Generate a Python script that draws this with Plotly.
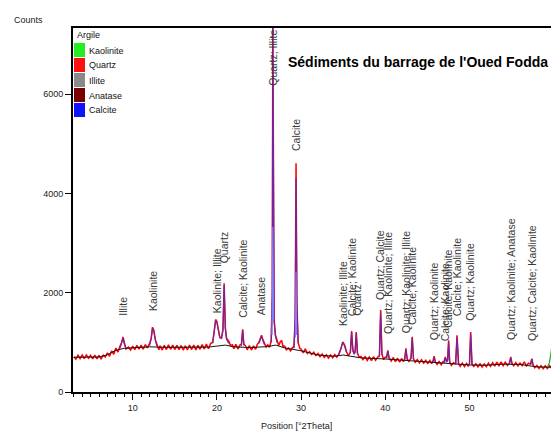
import plotly.graph_objects as go

# ---------------- data ----------------
obs_two_theta = [
    3.0, 3.25, 3.5, 3.75, 4.0, 4.25, 4.5, 4.75, 5.0, 5.25,
    5.5, 5.75, 6.0, 6.25, 6.5, 6.75, 7.0, 7.25, 7.5, 7.75,
    8.0, 8.25, 8.5, 8.7, 8.85, 9.0, 9.2, 9.5, 9.75, 10.0,
    10.25, 10.5, 10.75, 11.0, 11.25, 11.5, 11.75, 12.0, 12.2, 12.35,
    12.5, 12.7, 12.9, 13.1, 13.25, 13.5, 13.75, 14.0, 14.25, 14.5,
    14.75, 15.0, 15.25, 15.5, 15.75, 16.0, 16.25, 16.5, 16.75, 17.0,
    17.25, 17.5, 17.75, 18.0, 18.25, 18.5, 18.75, 19.0, 19.25, 19.5,
    19.7, 19.85, 20.0, 20.15, 20.35, 20.55, 20.72, 20.86, 21.0, 21.15,
    21.4, 21.6, 21.85, 22.0, 22.25, 22.5, 22.75, 22.92, 23.06, 23.2,
    23.4, 23.6, 23.85, 24.1, 24.35, 24.6, 24.8, 25.0, 25.15, 25.3,
    25.45, 25.65, 25.85, 26.05, 26.25, 26.45, 26.58, 26.64, 26.72, 26.8,
    26.95, 27.15, 27.35, 27.55, 27.7, 27.85, 28.05, 28.25, 28.5, 28.75,
    28.95, 29.15, 29.3, 29.4, 29.5, 29.65, 29.85, 30.0, 30.25, 30.5,
    30.75, 31.0, 31.25, 31.5, 31.75, 32.0, 32.25, 32.5, 32.75, 33.0,
    33.25, 33.5, 33.75, 34.0, 34.25, 34.5, 34.75, 34.95, 35.15, 35.4,
    35.6, 35.85, 36.0, 36.15, 36.3, 36.42, 36.55, 36.7, 36.9, 37.1,
    37.35, 37.6, 37.85, 38.1, 38.35, 38.6, 38.85, 39.1, 39.3, 39.45,
    39.6, 39.8, 40.0, 40.15, 40.3, 40.45, 40.7, 40.95, 41.2, 41.45,
    41.7, 41.95, 42.15, 42.3, 42.45, 42.6, 42.8, 43.05, 43.2, 43.35,
    43.55, 43.8, 44.05, 44.3, 44.55, 44.8, 45.05, 45.3, 45.5, 45.65,
    45.8, 45.95, 46.15, 46.4, 46.65, 46.85, 46.97, 47.12, 47.28, 47.4,
    47.52, 47.65, 47.85, 48.1, 48.35, 48.52, 48.7, 48.9, 49.15, 49.4,
    49.65, 49.85, 50.0, 50.14, 50.3, 50.5, 50.75, 51.0, 51.25, 51.5,
    51.75, 52.0, 52.25, 52.5, 52.75, 53.0, 53.25, 53.5, 53.75, 54.0,
    54.25, 54.5, 54.75, 54.9, 55.05, 55.25, 55.5, 55.75, 56.0, 56.25,
    56.5, 56.75, 57.0, 57.25, 57.4, 57.55, 57.75, 58.0, 58.25, 58.5,
    58.75, 59.0, 59.25, 59.5, 59.75,
]
obs_counts = [
    710, 660, 740, 675, 745, 672, 748, 680, 738, 668,
    745, 665, 738, 662, 742, 705, 790, 720, 830, 760,
    885, 805, 925, 1000, 1110, 985, 865, 905, 845, 925,
    855, 940, 865, 945, 860, 955, 890, 975, 1085, 1305,
    1250, 1050, 940, 850, 930, 845, 940, 855, 950, 860,
    945, 855, 940, 852, 935, 845, 930, 850, 943, 855,
    945, 848, 940, 860, 955, 865, 965, 870, 975, 1000,
    1250, 1460, 1420, 1250, 1100, 1090, 1260, 2190, 1300, 1080,
    1030, 940, 950, 870, 960, 865, 950, 965, 1265, 965,
    930, 850, 935, 845, 930, 860, 960, 1005, 1080, 1145,
    1060, 990, 905, 950, 900, 1030, 2000, 7400, 3000, 1450,
    1150, 1030, 935, 1020, 1030, 915, 925, 850, 885, 830,
    895, 905, 1500, 4610, 1800, 1000, 875, 865, 790, 870,
    775, 815, 755, 800, 735, 775, 710, 765, 697, 750,
    683, 743, 690, 755, 700, 775, 880, 1010, 950, 810,
    730, 800, 1230, 850, 770, 820, 1210, 780, 700, 715,
    650, 710, 635, 705, 630, 710, 640, 705, 730, 1650,
    770, 650, 705, 700, 840, 690, 625, 695, 610, 680,
    600, 675, 610, 665, 880, 665, 615, 680, 1110, 670,
    600, 655, 585, 650, 580, 640, 575, 635, 570, 615,
    720, 600, 555, 615, 550, 610, 600, 706, 620, 650,
    1043, 600, 535, 590, 560, 1144, 570, 515, 580, 510,
    575, 515, 575, 1210, 565, 515, 570, 505, 565, 500,
    565, 510, 580, 515, 590, 520, 600, 530, 605, 530,
    600, 535, 585, 706, 570, 530, 590, 525, 585, 530,
    605, 525, 580, 560, 673, 545, 490, 535, 475, 530,
    470, 527, 473, 530, 480,
]

bg_two_theta = [3.0, 6.0, 7.0, 8.0, 9.0, 10.0, 12.0, 14.0, 17.0, 19.0, 20.0, 21.0,
                22.0, 24.0, 26.0, 27.0, 28.0, 29.0, 30.0, 32.0, 34.0, 35.0, 36.0,
                37.0, 40.0, 42.0, 44.0, 46.0, 48.0, 50.0, 52.0, 54.0, 56.0, 58.0, 59.75]
bg_counts = [700, 705, 750, 840, 880, 895, 910, 900, 895, 905, 925, 945,
             910, 895, 915, 945, 890, 865, 830, 745, 720, 745, 725,
             690, 665, 640, 615, 590, 555, 545, 540, 560, 555, 505, 500]

calc_two_theta = [
    8.5, 8.7, 8.85, 9.0, 9.2, None,
    12.0, 12.2, 12.35, 12.5, 12.7, 12.9, None,
    19.5, 19.7, 19.85, 20.0, 20.15, 20.35, 20.55, 20.72, 20.86, 21.0, 21.15, 21.4, None,
    22.9, 23.06, 23.2, None,
    25.0, 25.15, 25.3, 25.45, 25.65, None,
    26.45, 26.58, 26.64, 26.72, 26.8, 26.95, 27.15, None,
    29.15, 29.3, 29.4, 29.5, 29.65, None,
    34.5, 34.75, 34.95, 35.15, 35.4, None,
    35.85, 36.0, 36.15, 36.3, 36.42, 36.55, 36.7, None,
    39.3, 39.45, 39.6, None,
    40.15, 40.3, 40.45, None,
    42.3, 42.45, 42.6, None,
    43.05, 43.2, 43.35, None,
    45.65, 45.8, 45.95, None,
    46.97, 47.12, 47.28, 47.4, 47.52, 47.65, None,
    48.35, 48.52, 48.7, None,
    50.0, 50.14, 50.3, None,
    54.75, 54.9, 55.05, None,
    57.25, 57.4, 57.55,
]
calc_counts = [
    880, 980, 1090, 960, 885, None,
    930, 1070, 1280, 1230, 1030, 910, None,
    980, 1230, 1440, 1400, 1240, 1090, 1080, 1240, 2150, 1280, 1060, 980, None,
    920, 1250, 940, None,
    980, 1060, 1120, 1040, 950, None,
    1000, 1950, 7330, 2950, 1420, 1120, 990, None,
    880, 1450, 4310, 1750, 980, None,
    750, 870, 1000, 940, 790, None,
    780, 1200, 830, 760, 800, 1180, 760, None,
    700, 1600, 740, None,
    680, 820, 670, None,
    650, 860, 650, None,
    660, 1090, 650, None,
    600, 700, 590, None,
    580, 690, 600, 630, 1000, 580, None,
    560, 1100, 555, None,
    560, 1160, 550, None,
    565, 690, 560, None,
    545, 660, 535,
]

comp_two_theta = [26.55, 26.64, 26.72, None, 29.33, 29.4, 29.47]
comp_counts = [1150, 3330, 1450, None, 1100, 2420, 1150]

kaolinite_tail_two_theta = [59.3, 59.5, 59.65, 59.75]
kaolinite_tail_counts = [505, 600, 760, 880]

label_two_theta = [8.85, 12.4, 19.95, 20.86, 23.06, 25.2, 26.64, 29.4,
                   35.0, 36.0, 36.55, 39.45, 40.3, 42.45, 43.2, 45.8,
                   47.12, 47.52, 48.52, 50.14, 54.9, 57.4]
label_text = ["Illite", "Kaolinite", "Kaolinite; Illite", "Quartz", "Calcite; Kaolinite",
              "Anatase", "Quartz; Illite", "Calcite",
              "Kaolinite; Illite", "Calcite; Kaolinite", "Quartz", "Quartz; Calcite",
              "Quartz; Kaolinite; Illite", "Quartz; Kaolinite; Illite", "Calcite; Kaolinite",
              "Quartz; Kaolinite", "Calcite; Kaolinite", "Calcite; Kaolinite",
              "Calcite; Kaolinite", "Quartz; Kaolinite", "Quartz; Kaolinite; Anatase",
              "Quartz; Calcite; Kaolinite"]
label_base_counts = [1487, 1588, 1547, 2555, 1447, 1507, 6125, 4815,
                     1285, 1480, 1500, 1808, 1124, 1144, 1312, 1004,
                     985, 1245, 1487, 1386, 1004, 985]

phase_names = ["Kaolinite", "Quartz", "Illite", "Anatase", "Calcite"]
phase_colors = ["#22ee22", "#ff1010", "#8a8a8a", "#7a0000", "#1010ff"]

x_tick_vals = [10, 20, 30, 40, 50]
y_tick_vals = [0, 2000, 4000, 6000]

# ---------------- layout geometry (pixels) ----------------
W, H = 551, 434
L, T, R, B = 73, 28, 551, 392
PW, PH = R - L, B - T


def px(x):
    return (x - L) / PW


def py(y):
    return (B - y) / PH


SANS = "Liberation Sans, Arial, sans-serif"

fig = go.Figure()

fig.add_trace(go.Scatter(x=obs_two_theta, y=obs_counts, mode="lines",
                         line=dict(color="#ff0000", width=1.5), hoverinfo="skip"))
fig.add_trace(go.Scatter(x=bg_two_theta, y=bg_counts, mode="lines",
                         line=dict(color="#151515", width=1), hoverinfo="skip"))
fig.add_trace(go.Scatter(x=calc_two_theta, y=calc_counts, mode="lines",
                         line=dict(color="#6428b0", width=1.2), opacity=0.9,
                         connectgaps=False, hoverinfo="skip"))
fig.add_trace(go.Scatter(x=comp_two_theta, y=comp_counts, mode="lines",
                         line=dict(color="#7f7fff", width=1.2), connectgaps=False,
                         hoverinfo="skip"))
fig.add_trace(go.Scatter(x=kaolinite_tail_two_theta, y=kaolinite_tail_counts, mode="lines",
                         line=dict(color="#22aa22", width=1.2), hoverinfo="skip"))

annotations = []
for xv, txt, yv in zip(label_two_theta, label_text, label_base_counts):
    annotations.append(dict(x=xv, y=yv, xref="x", yref="y", text=txt, showarrow=False,
                            textangle=-90, xanchor="center", yanchor="bottom",
                            font=dict(family=SANS, size=10.5, color="#3a3a3a")))

# title
annotations.append(dict(x=px(286), y=py(62), xref="paper", yref="paper",
                        text="<b>Sédiments du barrage de l'Oued Fodda</b>", showarrow=False,
                        xanchor="left", yanchor="middle",
                        font=dict(family=SANS, size=14, color="#000000")))
# y axis title
annotations.append(dict(x=px(12), y=py(20), xref="paper", yref="paper", text="Counts",
                        showarrow=False, xanchor="left", yanchor="middle",
                        font=dict(family=SANS, size=9, color="#222222")))
# x axis title
annotations.append(dict(x=px(296), y=py(426), xref="paper", yref="paper",
                        text="Position [°2Theta]", showarrow=False, xanchor="center",
                        yanchor="middle", font=dict(family=SANS, size=9, color="#222222")))

# legend (Argile)
shapes = []
annotations.append(dict(x=px(75), y=py(35), xref="paper", yref="paper", text="Argile",
                        showarrow=False, xanchor="left", yanchor="middle",
                        font=dict(family=SANS, size=9, color="#111111")))
for i, (name, col) in enumerate(zip(phase_names, phase_colors)):
    top = 43 + 15 * i
    shapes.append(dict(type="rect", xref="paper", yref="paper",
                       x0=px(74), x1=px(85), y0=py(top + 14), y1=py(top),
                       fillcolor=col, line=dict(width=0)))
    annotations.append(dict(x=px(86.5), y=py(top + 7.5), xref="paper", yref="paper",
                            text=name, showarrow=False, xanchor="left", yanchor="middle",
                            font=dict(family=SANS, size=9, color="#111111")))

fig.update_layout(
    width=W, height=H,
    margin=dict(l=L, r=W - R, t=T, b=H - B, pad=0),
    paper_bgcolor="white", plot_bgcolor="white",
    showlegend=False,
    annotations=annotations, shapes=shapes,
    font=dict(family=SANS, size=9, color="#222222"),
)
fig.update_xaxes(range=[2.91, 59.68], tickvals=x_tick_vals, ticks="outside", ticklen=6,
                 tickwidth=1, tickcolor="#000", showline=True, linecolor="#000", linewidth=2,
                 mirror=True, showgrid=False, zeroline=False,
                 tickfont=dict(family=SANS, size=9, color="#222"),
                 minor=dict(dtick=1, tick0=0, ticks="outside", ticklen=3, tickcolor="#000",
                            tickwidth=1, showgrid=False))
fig.update_yaxes(range=[0, 7332], tickvals=y_tick_vals, tickformat="d", ticks="outside",
                 ticklen=6, tickwidth=1, tickcolor="#000", showline=True, linecolor="#000",
                 linewidth=2, showgrid=False, zeroline=False,
                 tickfont=dict(family=SANS, size=9, color="#222"))

fig.write_html("out.html", config={"displayModeBar": False},
               post_script="document.body.style.margin='0px';document.body.style.padding='0px';")
